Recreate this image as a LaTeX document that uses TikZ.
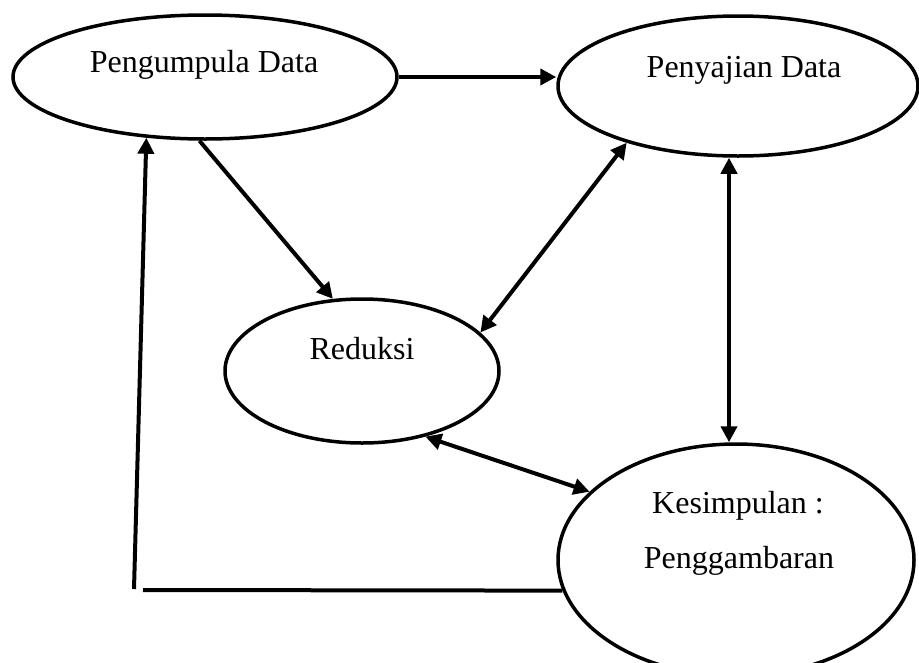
\documentclass[tikz,border=0pt]{standalone}
\usepackage{fontspec}
\setmainfont{Liberation Serif}
\usetikzlibrary{shapes.geometric,arrows.meta}

\begin{document}
\begin{tikzpicture}[x=1pt,y=-1pt,line width=3.5pt,
      >={Triangle[length=16pt,width=16pt]},
      bulat/.style={draw,ellipse,inner sep=0pt},
      teks/.style={anchor=base,font=\fontsize{32}{38}\selectfont},
      panah/.style={line width=4pt}]
      \useasboundingbox (0,0) rectangle (919,662);
      \node[bulat,minimum width=384pt,minimum height=124pt] (1) at (205,77) {};
      \node[bulat,minimum width=360pt,minimum height=140pt] (2) at (738,86) {};
      \node[bulat,minimum width=274pt,minimum height=144pt] (3) at (362,371) {};
      \node[bulat,minimum width=356pt,minimum height=232pt] (4) at (736,560) {};

      \node[teks] (1a) at (204,72) {Pengumpula Data};
      \node[teks] (2a) at (744,77) {Penyajian Data};
      \node[teks] (3a) at (362,359) {Reduksi};
      \node[teks] (4a) at (738,513) {Kesimpulan :};
      \node[teks] (4b) at (739,568) {Penggambaran};

      \coordinate (5) at (143,590);
      \coordinate (6) at (134,589);

      \draw[panah,->] (1.east) -- (1.east -| 2.west);
      \draw[panah,->] (1.-95) -- (3.112);
      \draw[panah,<->] (2.-153) -- (3.18);
      \draw[panah,<->] ([xshift=-9pt]2.south) -- ([xshift=-9pt]2.south |- 4.north);
      \draw[panah,<->] (3.-46) -- (4.155);
      \draw[panah] (4.190) -- (5);
      \draw[panah,->] (6) -- (1.-134);
\end{tikzpicture}
\end{document}
